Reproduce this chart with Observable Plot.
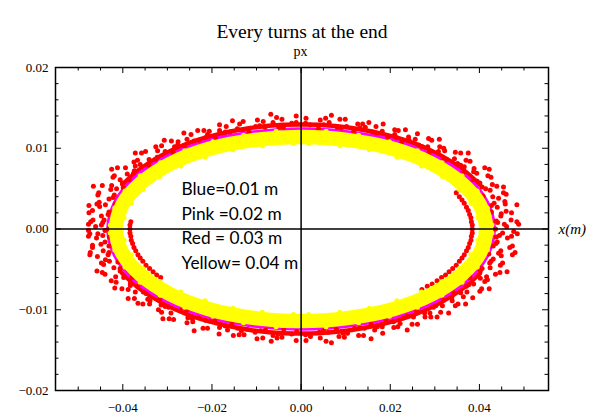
<!DOCTYPE html>
<html>
<head>
<meta charset="utf-8">
<script src="https://cdn.jsdelivr.net/npm/d3@7"></script>
<script src="https://cdn.jsdelivr.net/npm/@observablehq/plot@0.6"></script>
<style>
  html, body { margin: 0; padding: 0; background: #fff; }
  #chart { width: 590px; height: 415px; }
</style>
</head>
<body>
<div id="chart"></div>
<script>
// ---------- text ----------
const titleText = "Every turns at the end";
const yAxisName = "px";
const xAxisName = "x(m)";
const legendLines = ["Blue=0.01 m", "Pink =0.02 m", "Red = 0.03 m", "Yellow= 0.04 m"];

// ---------- ticks ----------
const xMajorTicks = [-0.04, -0.02, 0, 0.02, 0.04];
const xMinorTicks = [-0.05, -0.045, -0.035, -0.03, -0.025, -0.015, -0.01, -0.005, 0.005, 0.01, 0.015, 0.025, 0.03, 0.035, 0.045, 0.05];
const yMajorTicks = [-0.02, -0.01, 0, 0.01, 0.02];
const yMinorTicks = [-0.018, -0.016, -0.014, -0.012, -0.008, -0.006, -0.004, -0.002, 0.002, 0.004, 0.006, 0.008, 0.012, 0.014, 0.016, 0.018];

// ---------- data ----------
// 0.04 m (yellow): centre line of the dense band, and particles on its ragged edges
const yellowBand = [[0.0415,0],[0.0401,0.0030],[0.0359,0.0057],[0.0293,0.0081],[0.0208,0.0099],[0.0107,0.0110],[0,0.0114],[-0.0107,0.0110],[-0.0208,0.0099],[-0.0293,0.0081],[-0.0359,0.0057],[-0.0401,0.0030],[-0.0415,0],[-0.0401,-0.0030],[-0.0359,-0.0057],[-0.0293,-0.0081],[-0.0208,-0.0099],[-0.0107,-0.0110],[0,-0.0114],[0.0107,-0.0110],[0.0208,-0.0099],[0.0293,-0.0081],[0.0359,-0.0057],[0.0401,-0.0030]];
const yellowEdge = [
  [0.0428,0.0005],[0.0418,0.0026],[0.0395,0.0047],[0.0361,0.0066],[0.0316,0.0082],[0.0261,0.0097],[0.0198,0.0108],[0.0129,0.0116],[0.0056,0.0121],
  [-0.0428,0.0005],[-0.0418,0.0026],[-0.0395,0.0047],[-0.0361,0.0066],[-0.0316,0.0082],[-0.0261,0.0097],[-0.0198,0.0108],[-0.0129,0.0116],[-0.0056,0.0121],
  [-0.0428,-0.0005],[-0.0418,-0.0026],[-0.0395,-0.0047],[-0.0361,-0.0066],[-0.0316,-0.0082],[-0.0261,-0.0097],[-0.0198,-0.0108],[-0.0129,-0.0116],[-0.0056,-0.0121],
  [0.0428,-0.0005],[0.0418,-0.0026],[0.0395,-0.0047],[0.0361,-0.0066],[0.0316,-0.0082],[0.0261,-0.0097],[0.0198,-0.0108],[0.0129,-0.0116],[0.0056,-0.0121],
  [0.0397,0.0014],[0.0381,0.0032],[0.0355,0.0049],[0.0317,0.0065],[0.0270,0.0078],[0.0215,0.0089],[0.0153,0.0098],[0.0087,0.0103],[0.0017,0.0106],
  [-0.0397,0.0014],[-0.0381,0.0032],[-0.0355,0.0049],[-0.0317,0.0065],[-0.0270,0.0078],[-0.0215,0.0089],[-0.0153,0.0098],[-0.0087,0.0103],[-0.0017,0.0106],
  [-0.0397,-0.0014],[-0.0381,-0.0032],[-0.0355,-0.0049],[-0.0317,-0.0065],[-0.0270,-0.0078],[-0.0215,-0.0089],[-0.0153,-0.0098],[-0.0087,-0.0103],[-0.0017,-0.0106],
  [0.0397,-0.0014],[0.0381,-0.0032],[0.0355,-0.0049],[0.0317,-0.0065],[0.0270,-0.0078],[0.0215,-0.0089],[0.0153,-0.0098],[0.0087,-0.0103],[0.0017,-0.0106]];
// 0.02 m (pink): centre line of the dense band
const pinkBand = [[0.0421,0],[0.0407,0.0030],[0.0365,0.0059],[0.0298,0.0083],[0.0211,0.0102],[0.0109,0.0113],[0,0.0117],[-0.0109,0.0113],[-0.0211,0.0102],[-0.0298,0.0083],[-0.0365,0.0059],[-0.0407,0.0030],[-0.0421,0],[-0.0407,-0.0030],[-0.0365,-0.0059],[-0.0298,-0.0083],[-0.0211,-0.0102],[-0.0109,-0.0113],[0,-0.0117],[0.0109,-0.0113],[0.0211,-0.0102],[0.0298,-0.0083],[0.0365,-0.0059],[0.0407,-0.0030]];
// 0.03 m (red): densest part just outside the band (upper and lower arcs)
const redCoreTop = [[0.0401,0.0055],[0.0362,0.0074],[0.0313,0.0091],[0.0254,0.0106],[0.0187,0.0117],[0.0114,0.0125],[0.0039,0.0129],[-0.0039,0.0129],[-0.0114,0.0125],[-0.0187,0.0117],[-0.0254,0.0106],[-0.0313,0.0091],[-0.0362,0.0074],[-0.0401,0.0055]];
const redCoreBottom = [[0.0401,-0.0055],[0.0362,-0.0074],[0.0313,-0.0091],[0.0254,-0.0106],[0.0187,-0.0117],[0.0114,-0.0125],[0.0039,-0.0129],[-0.0039,-0.0129],[-0.0114,-0.0125],[-0.0187,-0.0117],[-0.0254,-0.0106],[-0.0313,-0.0091],[-0.0362,-0.0074],[-0.0401,-0.0055]];
// 0.03 m (red) particles, outer scatter, by quadrant
const redUpperRight = [[0.0436,0],[0.0438,0.0010],[0.0427,0.0021],[0.0433,0.0032],[0.0408,0.0041],[0.0406,0.0052],[0.0386,0.0061],[0.0364,0.0070],[0.0351,0.0081],[0.0320,0.0088],[0.0287,0.0094],[0.0264,0.0104],[0.0226,0.0108],[0.0194,0.0114],[0.0160,0.0120],[0.0118,0.0121],[0.0081,0.0126],[0.0039,0.0124],
  [0.0456,0.0006],[0.0448,0.0016],[0.0440,0.0027],[0.0443,0.0038],[0.0424,0.0048],[0.0401,0.0057],[0.0394,0.0069],[0.0366,0.0077],[0.0344,0.0087],[0.0322,0.0097],[0.0284,0.0102],[0.0256,0.0111],[0.0215,0.0113],[0.0182,0.0121],[0.0144,0.0126],[0.0102,0.0127],[0.0063,0.0132],[0.0020,0.0129],
  [0.0461,0.0003],[0.0471,0.0011],[0.0460,0.0022],[0.0457,0.0034],[0.0454,0.0045],[0.0429,0.0055],[0.0419,0.0066],[0.0388,0.0075],[0.0370,0.0085],[0.0346,0.0095],[0.0311,0.0102],[0.0286,0.0112],[0.0241,0.0114],[0.0210,0.0123],[0.0168,0.0127],[0.0127,0.0130],[0.0087,0.0136],[0.0043,0.0135],
  [0.0488,0.0006],[0.0484,0.0030],[0.0454,0.0052],[0.0422,0.0074],[0.0375,0.0094],[0.0310,0.0111],[0.0234,0.0123],[0.0152,0.0132],[0.0068,0.0141],
  [0.0441,0.0008],[0.0449,0.0019],[0.0427,0.0029],[0.0430,0.0040],[0.0414,0.0050],[0.0395,0.0059],[0.0387,0.0071],[0.0358,0.0079],[0.0327,0.0086],[0.0308,0.0096],[0.0272,0.0102],[0.0242,0.0110],[0.0210,0.0117],[0.0168,0.0119],[0.0132,0.0125],[0.0090,0.0125],[0.0051,0.0129],[0.0010,0.0131],
  [0.0484,0.0009],[0.0472,0.0020],[0.0458,0.0031],[0.0460,0.0043],[0.0439,0.0053],[0.0426,0.0064],[0.0412,0.0076],[0.0379,0.0084],[0.0358,0.0094],[0.0320,0.0100],[0.0293,0.0110],[0.0261,0.0118],[0.0218,0.0122],[0.0184,0.0130],[0.0138,0.0130],[0.0099,0.0136],[0.0055,0.0137],[0.0011,0.0137]];
const redUpperLeft = [[-0.0432,0],[-0.0442,0.0011],[-0.0431,0.0021],[-0.0417,0.0031],[-0.0419,0.0042],[-0.0399,0.0051],[-0.0386,0.0061],[-0.0374,0.0072],[-0.0342,0.0079],[-0.0323,0.0089],[-0.0287,0.0094],[-0.0262,0.0103],[-0.0230,0.0110],[-0.0192,0.0113],[-0.0160,0.0120],[-0.0117,0.0120],[-0.0081,0.0126],[-0.0040,0.0126],
  [-0.0448,0.0005],[-0.0448,0.0016],[-0.0452,0.0028],[-0.0431,0.0037],[-0.0427,0.0049],[-0.0401,0.0057],[-0.0390,0.0068],[-0.0372,0.0078],[-0.0341,0.0086],[-0.0322,0.0097],[-0.0284,0.0102],[-0.0256,0.0111],[-0.0215,0.0113],[-0.0183,0.0122],[-0.0143,0.0124],[-0.0102,0.0127],[-0.0063,0.0132],[-0.0021,0.0131],
  [-0.0461,0.0003],[-0.0467,0.0011],[-0.0468,0.0023],[-0.0453,0.0033],[-0.0454,0.0045],[-0.0425,0.0054],[-0.0419,0.0066],[-0.0394,0.0076],[-0.0367,0.0085],[-0.0349,0.0096],[-0.0313,0.0103],[-0.0276,0.0108],[-0.0247,0.0117],[-0.0206,0.0121],[-0.0168,0.0127],[-0.0130,0.0133],[-0.0085,0.0133],[-0.0043,0.0136],
  [-0.0477,0.0006],[-0.0476,0.0029],[-0.0466,0.0053],[-0.0425,0.0074],[-0.0372,0.0094],[-0.0307,0.0110],[-0.0232,0.0122],[-0.0154,0.0134],[-0.0068,0.0142],
  [-0.0445,0.0008],[-0.0433,0.0018],[-0.0439,0.0030],[-0.0422,0.0039],[-0.0414,0.0050],[-0.0406,0.0061],[-0.0376,0.0069],[-0.0361,0.0080],[-0.0327,0.0086],[-0.0305,0.0096],[-0.0277,0.0104],[-0.0240,0.0109],[-0.0210,0.0117],[-0.0170,0.0120],[-0.0130,0.0123],[-0.0093,0.0128],[-0.0050,0.0126],[-0.0011,0.0132],
  [-0.0472,0.0009],[-0.0476,0.0020],[-0.0458,0.0031],[-0.0456,0.0042],[-0.0446,0.0054],[-0.0422,0.0064],[-0.0412,0.0076],[-0.0375,0.0083],[-0.0358,0.0094],[-0.0326,0.0102],[-0.0291,0.0109],[-0.0263,0.0119],[-0.0218,0.0122],[-0.0183,0.0129],[-0.0138,0.0130],[-0.0098,0.0135],[-0.0055,0.0138],[-0.0011,0.0140]];
const redLowerLeft = [[-0.0440,-0.0002],[-0.0430,-0.0010],[-0.0431,-0.0021],[-0.0433,-0.0032],[-0.0411,-0.0041],[-0.0406,-0.0052],[-0.0379,-0.0060],[-0.0367,-0.0071],[-0.0348,-0.0080],[-0.0317,-0.0087],[-0.0297,-0.0097],[-0.0257,-0.0101],[-0.0230,-0.0110],[-0.0194,-0.0114],[-0.0155,-0.0117],[-0.0121,-0.0124],[-0.0080,-0.0125],[-0.0039,-0.0124],
  [-0.0456,-0.0006],[-0.0440,-0.0016],[-0.0444,-0.0027],[-0.0439,-0.0038],[-0.0420,-0.0048],[-0.0416,-0.0059],[-0.0383,-0.0067],[-0.0372,-0.0078],[-0.0344,-0.0087],[-0.0314,-0.0094],[-0.0292,-0.0104],[-0.0254,-0.0110],[-0.0215,-0.0113],[-0.0183,-0.0122],[-0.0142,-0.0123],[-0.0103,-0.0128],[-0.0063,-0.0132],[-0.0021,-0.0130],
  [-0.0477,-0.0002],[-0.0459,-0.0011],[-0.0468,-0.0023],[-0.0457,-0.0034],[-0.0443,-0.0044],[-0.0440,-0.0056],[-0.0415,-0.0066],[-0.0388,-0.0075],[-0.0374,-0.0086],[-0.0340,-0.0093],[-0.0313,-0.0103],[-0.0286,-0.0112],[-0.0243,-0.0115],[-0.0210,-0.0123],[-0.0165,-0.0125],[-0.0128,-0.0131],[-0.0086,-0.0135],[-0.0043,-0.0134],
  [-0.0474,-0.0006],[-0.0473,-0.0029],[-0.0458,-0.0052],[-0.0418,-0.0073],[-0.0366,-0.0092],[-0.0310,-0.0111],[-0.0240,-0.0126],[-0.0152,-0.0132],[-0.0067,-0.0139],
  [-0.0445,-0.0008],[-0.0449,-0.0019],[-0.0431,-0.0029],[-0.0430,-0.0040],[-0.0406,-0.0049],[-0.0398,-0.0060],[-0.0383,-0.0070],[-0.0354,-0.0078],[-0.0339,-0.0089],[-0.0305,-0.0096],[-0.0270,-0.0101],[-0.0244,-0.0111],[-0.0205,-0.0114],[-0.0170,-0.0120],[-0.0134,-0.0126],[-0.0091,-0.0126],[-0.0052,-0.0130],[-0.0010,-0.0127],
  [-0.0477,-0.0009],[-0.0468,-0.0020],[-0.0474,-0.0032],[-0.0448,-0.0042],[-0.0446,-0.0054],[-0.0426,-0.0064],[-0.0402,-0.0074],[-0.0388,-0.0086],[-0.0355,-0.0093],[-0.0320,-0.0100],[-0.0296,-0.0111],[-0.0256,-0.0116],[-0.0220,-0.0123],[-0.0184,-0.0130],[-0.0139,-0.0131],[-0.0099,-0.0136],[-0.0054,-0.0135],[-0.0011,-0.0138]];
const redLowerRight = [[0.0427,-0.0002],[0.0438,-0.0010],[0.0431,-0.0021],[0.0421,-0.0031],[0.0423,-0.0042],[0.0402,-0.0052],[0.0379,-0.0060],[0.0371,-0.0071],[0.0342,-0.0079],[0.0320,-0.0088],[0.0297,-0.0097],[0.0259,-0.0102],[0.0230,-0.0110],[0.0190,-0.0112],[0.0157,-0.0118],[0.0120,-0.0123],[0.0079,-0.0124],[0.0041,-0.0128],
  [0.0452,-0.0005],[0.0440,-0.0016],[0.0448,-0.0027],[0.0431,-0.0037],[0.0424,-0.0048],[0.0416,-0.0059],[0.0387,-0.0068],[0.0372,-0.0078],[0.0338,-0.0085],[0.0317,-0.0095],[0.0289,-0.0104],[0.0252,-0.0109],[0.0222,-0.0117],[0.0182,-0.0121],[0.0142,-0.0123],[0.0104,-0.0129],[0.0061,-0.0128],[0.0021,-0.0133],
  [0.0477,-0.0003],[0.0463,-0.0011],[0.0468,-0.0023],[0.0449,-0.0033],[0.0447,-0.0045],[0.0436,-0.0056],[0.0412,-0.0065],[0.0401,-0.0077],[0.0364,-0.0084],[0.0346,-0.0095],[0.0313,-0.0103],[0.0278,-0.0109],[0.0249,-0.0118],[0.0208,-0.0122],[0.0165,-0.0125],[0.0129,-0.0132],[0.0085,-0.0133],[0.0043,-0.0135],
  [0.0485,-0.0006],[0.0480,-0.0029],[0.0462,-0.0053],[0.0422,-0.0074],[0.0369,-0.0093],[0.0305,-0.0109],[0.0238,-0.0125],[0.0157,-0.0136],[0.0068,-0.0141],
  [0.0445,-0.0008],[0.0437,-0.0018],[0.0443,-0.0030],[0.0426,-0.0040],[0.0406,-0.0049],[0.0402,-0.0061],[0.0376,-0.0069],[0.0358,-0.0079],[0.0339,-0.0089],[0.0302,-0.0095],[0.0277,-0.0104],[0.0238,-0.0108],[0.0207,-0.0115],[0.0171,-0.0121],[0.0130,-0.0123],[0.0094,-0.0129],[0.0050,-0.0126],[0.0010,-0.0131],
  [0.0472,-0.0009],[0.0474,-0.0021],[0.0474,-0.0032],[0.0452,-0.0042],[0.0446,-0.0054],[0.0418,-0.0063],[0.0405,-0.0074],[0.0385,-0.0085],[0.0352,-0.0093],[0.0331,-0.0104],[0.0291,-0.0109],[0.0261,-0.0118],[0.0217,-0.0121],[0.0183,-0.0129],[0.0140,-0.0132],[0.0097,-0.0134],[0.0056,-0.0139],[0.0011,-0.0138]];
// 0.03 m (red) particles seen just inside the yellow band (right and left ends)
const redInnerRight = [[0.0348,0.0045],[0.0361,0.0036],[0.0371,0.0027],[0.0378,0.0018],[0.0382,0.0009],[0.0384,0],[0.0382,-0.0009],[0.0378,-0.0018],[0.0371,-0.0027],[0.0361,-0.0036],[0.0348,-0.0045],[0.0332,-0.0053],[0.0315,-0.0060],[0.0294,-0.0068],[0.0271,-0.0075],
  [0.0355,0.0040],[0.0366,0.0032],[0.0375,0.0023],[0.0381,0.0014],[0.0384,0.0005],[0.0384,-0.0005],[0.0381,-0.0014],[0.0375,-0.0023],[0.0366,-0.0032],[0.0355,-0.0040],[0.0340,-0.0049],[0.0324,-0.0057],[0.0305,-0.0064],[0.0283,-0.0071]];
const redInnerLeft = [[-0.0382,0.0009],[-0.0384,0],[-0.0382,-0.0009],[-0.0378,-0.0018],[-0.0371,-0.0027],[-0.0361,-0.0036],[-0.0348,-0.0045],[-0.0332,-0.0053],[-0.0315,-0.0060],
  [-0.0384,0.0005],[-0.0384,-0.0005],[-0.0381,-0.0014],[-0.0375,-0.0023],[-0.0366,-0.0032],[-0.0355,-0.0040],[-0.0340,-0.0049],[-0.0324,-0.0057]];

const redPoints = [...redUpperRight, ...redUpperLeft, ...redLowerLeft, ...redLowerRight, ...redInnerRight, ...redInnerLeft];

// ---------- layout ----------
const W = 590, H = 415;
const mL = 55, mR = 42, mT = 67, mB = 25;
const innerW = W - mL - mR, innerH = H - mT - mB;
const majorLen = 6, minorLen = 3.5;
const serif = "'Liberation Serif', 'DejaVu Serif', serif";
const fmt = d3.format(".2f");
const px = d => d[0], py = d => d[1];

const chart = Plot.plot({
  width: W, height: H,
  marginLeft: mL, marginRight: mR, marginTop: mT, marginBottom: mB,
  x: {domain: [-0.0551, 0.0555]},
  y: {domain: [-0.02, 0.02]},
  style: {fontFamily: serif, fontSize: "13px", color: "black", background: "white", overflow: "visible"},
  marks: [
    Plot.line(redCoreTop, {x: px, y: py, curve: "catmull-rom", stroke: "#ff0000", strokeWidth: 4.5, strokeLinecap: "round"}),
    Plot.line(redCoreBottom, {x: px, y: py, curve: "catmull-rom", stroke: "#ff0000", strokeWidth: 4.5, strokeLinecap: "round"}),
    Plot.line(pinkBand, {x: px, y: py, curve: "catmull-rom-closed", stroke: "#ff00ff", strokeWidth: 14.5}),
    Plot.dot(redPoints, {x: px, y: py, r: 2.5, fill: "#ff0000", stroke: "none"}),
    Plot.line(yellowBand, {x: px, y: py, curve: "catmull-rom-closed", stroke: "#ffff00", strokeWidth: 14.5}),
    Plot.dot(yellowEdge, {x: px, y: py, r: 2.5, fill: "#ffff00", stroke: "none"}),
    // axes through the origin
    Plot.ruleX([0], {stroke: "black", strokeWidth: 1.5}),
    Plot.ruleY([0], {stroke: "black", strokeWidth: 1.5}),
    // inward ticks on all four sides
    Plot.ruleX(xMajorTicks, {x: d => d, insetTop: innerH - majorLen, stroke: "black"}),
    Plot.ruleX(xMinorTicks, {x: d => d, insetTop: innerH - minorLen, stroke: "black"}),
    Plot.ruleX(xMajorTicks, {x: d => d, insetBottom: innerH - majorLen, stroke: "black"}),
    Plot.ruleX(xMinorTicks, {x: d => d, insetBottom: innerH - minorLen, stroke: "black"}),
    Plot.ruleY(yMajorTicks, {y: d => d, insetRight: innerW - majorLen, stroke: "black"}),
    Plot.ruleY(yMinorTicks, {y: d => d, insetRight: innerW - minorLen, stroke: "black"}),
    Plot.ruleY(yMajorTicks, {y: d => d, insetLeft: innerW - majorLen, stroke: "black"}),
    Plot.ruleY(yMinorTicks, {y: d => d, insetLeft: innerW - minorLen, stroke: "black"}),
    Plot.axisX(xMajorTicks, {anchor: "bottom", tickSize: 0, tickPadding: 12.5, tickFormat: fmt, label: null, fontSize: 13, fontFamily: serif}),
    Plot.axisY(yMajorTicks, {anchor: "left", tickSize: 0, tickPadding: 7, tickFormat: fmt, label: null, fontSize: 13, fontFamily: serif}),
    Plot.frame({stroke: "black", strokeWidth: 1.5}),
    // titles
    Plot.text([titleText], {frameAnchor: "top", dy: -43.7, fontSize: 19.5, fontFamily: serif, fill: "black"}),
    Plot.text([yAxisName], {frameAnchor: "top", dx: -1.5, dy: -21, fontSize: 14, fontFamily: serif, fill: "black"}),
    Plot.text([xAxisName], {frameAnchor: "right", dx: 10, textAnchor: "start", fontSize: 15, fontStyle: "italic", fontFamily: serif, fill: "black"}),
    // annotation
    Plot.text([legendLines.join("\n")], {frameAnchor: "left", dx: 126, dy: -5, textAnchor: "start", lineHeight: 1.445, fontSize: 17.3, fontFamily: "Lato, 'Open Sans', sans-serif", fill: "black"})
  ]
});
document.getElementById("chart").appendChild(chart);
</script>
</body>
</html>
